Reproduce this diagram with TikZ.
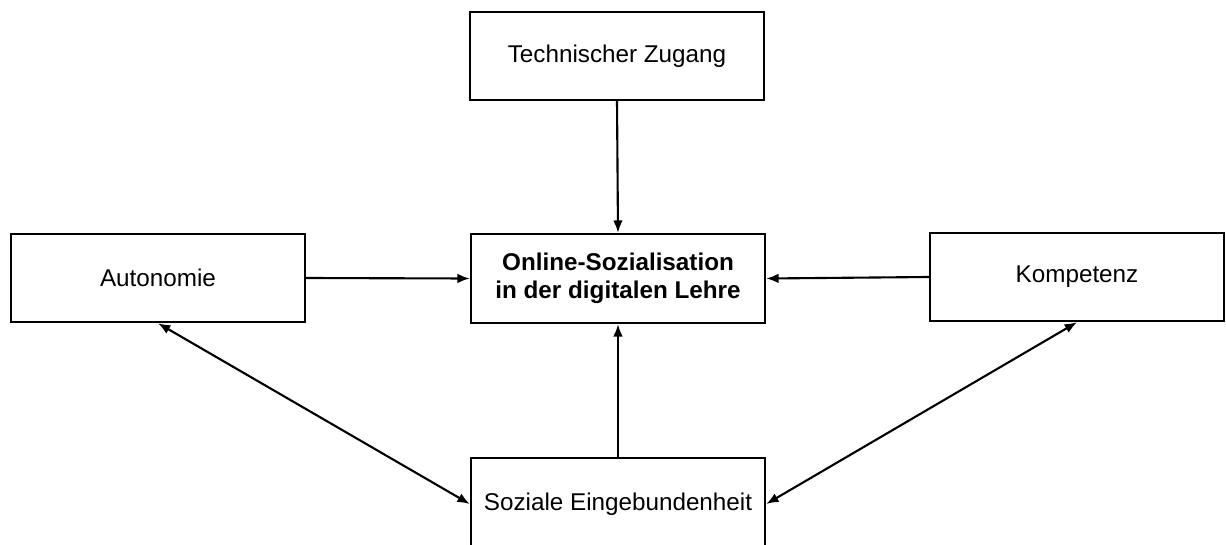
\documentclass[tikz,border=0pt]{standalone}
\usepackage{fontspec}
\setmainfont{Liberation Sans}
\usetikzlibrary{arrows.meta}
\begin{document}
\begin{tikzpicture}[x=0.02cm,y=-0.02cm,
  box/.style={draw=black,line width=1.4pt,rectangle,inner sep=0pt,minimum width=294*0.02cm,minimum height=88*0.02cm,align=center,font=\fontsize{13.8pt}{16pt}\selectfont},
  conn/.style={line width=1.2pt,-{Latex[length=7pt,width=5.5pt]}},
  biconn/.style={line width=1.2pt,{Latex[length=7pt,width=5.5pt]}-{Latex[length=7pt,width=5.5pt]}}]
\useasboundingbox (0,0) rectangle (1226,544);
\node[box] (tech) at (617,56) {Technischer Zugang};
\node[box] (auto) at (158,278) {Autonomie};
\node[box,minimum height=89*0.02cm,font=\fontsize{13.8pt}{16pt}\selectfont\bfseries] (center) at (618,278.5) {Online-Sozialisation\\in der digitalen Lehre};
\node[box] (komp) at (1077,277) {Kompetenz};
\node[box,minimum height=92*0.02cm] (soz) at (618,504) {Soziale Eingebundenheit};
\draw[conn] (tech.south) -- (center.north);
\draw[conn] (auto.east) -- (center.west);
\draw[conn] (komp.west) -- (center.east);
\draw[conn] (soz.north) -- (center.south);
\draw[biconn] (auto.south) -- (soz.west);
\draw[biconn] (komp.south) -- (soz.east);
\end{tikzpicture}
\end{document}
